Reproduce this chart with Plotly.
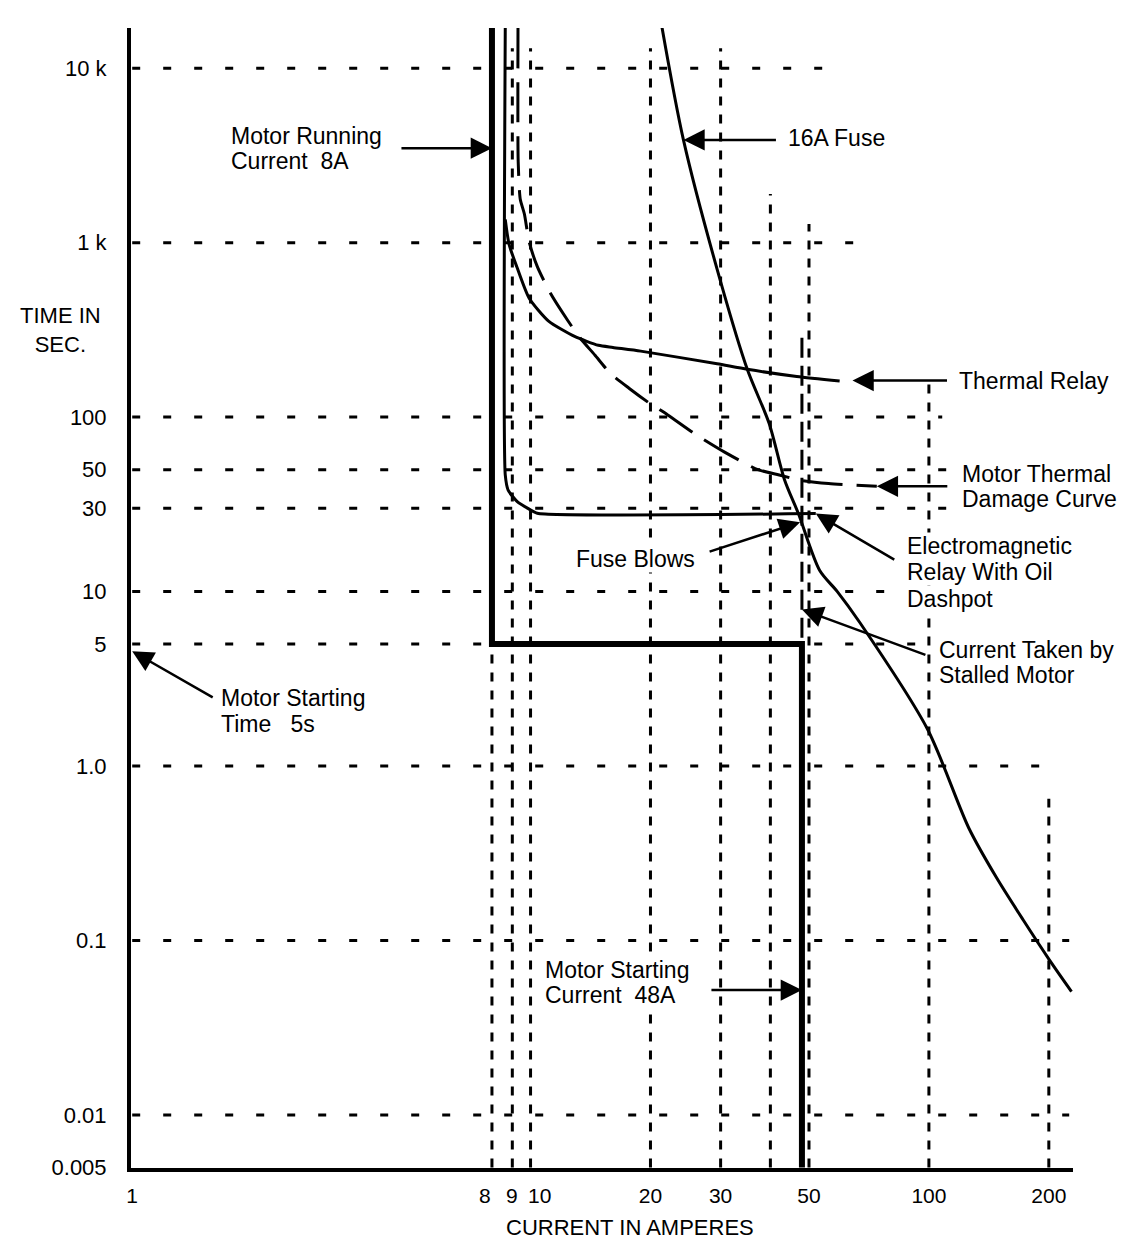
import math
import plotly.graph_objects as go

# ---------------- axes / ticks ----------------
x_tick_vals = [1, 20, 30, 50, 100, 200]
x_tick_text = ["1", "20", "30", "50", "100", "200"]
# crowded ticks near 8-10 A are labelled separately so they do not collide
x_close_vals = [8, 9, 10]
x_close_text = ["8", "9", "10"]
y_tick_vals = [0.005, 0.01, 0.1, 1, 5, 10, 30, 50, 100, 1000, 10000]
y_tick_text = ["0.005", "0.01", "0.1", "1.0", "5", "10", "30", "50", "100", "1 k", "10 k"]
x_min, x_max = 1, 230
y_min, y_max = 0.005, 17000

# ---------------- dotted reference grid (data units) ----------------
hgrid_sec = [10000, 1000, 100, 50, 30, 10, 5, 1, 0.1, 0.01]
hgrid_end_amps = [55, 69, 108, 119, 140, 86, 100, 190, 225, 225]
vgrid_amps = [8, 9, 10, 20, 30, 40, 50, 100, 200]
vgrid_top_sec = [17000, 13000, 13000, 13000, 13000, 1900, 1280, 155, 0.65]

# ---------------- curves ----------------
# motor running current 8 A -> starting time 5 s -> starting current 48 A
motor_amps = [8, 8, 48, 48]
motor_sec = [17000, 5, 5, 0.005]
# current taken by stalled motor (48 A)
stall_amps = [48, 48]
stall_sec = [285, 5]
# electromagnetic relay with oil dashpot
em_amps = [8.64, 8.64, 8.79, 9.26, 9.92, 10.4, 52]
em_sec = [17000, 46.6, 38, 32.8, 29.7, 28.1, 28]
# thermal relay
thermal_amps = [8.64, 8.83, 9.23, 9.92, 11.1, 12.9, 14.8, 16.1, 18.9, 29.4, 35.0, 46.6, 59.7]
thermal_sec = [1360, 980, 730, 480, 355, 290, 258, 251, 239, 202, 188, 171, 161]
# motor thermal damage curve
damage_amps = [9.3, 9.31, 9.42, 9.65, 9.92, 10.4, 11.2, 12.4, 13.3, 14.5, 15.9, 17.7,
               19.8, 22.1, 26.0, 30.7, 37.2, 42.1, 47.6, 56, 74]
damage_sec = [17000, 2930, 1780, 1460, 1010, 729, 516, 358, 285, 227, 177, 146,
              121, 103, 79.4, 63, 50, 46.6, 43.4, 41.6, 40.1]
# 16 A fuse
fuse_amps = [21.2, 24.2, 30, 35.0, 39.7, 43.4, 47, 53.2, 58.9, 67, 99, 126, 147.5, 172.5, 201, 228]
fuse_sec = [19100, 3880, 598, 188, 92.2, 43.8, 28.1, 13.2, 10, 6.67, 1.64, 0.44, 0.231, 0.131, 0.077, 0.051]

# ---------------- callouts: arrow head in data units ----------------
callout_heads = [(8, 3480), (24.2, 3880), (64.3, 162), (74, 40.1), (52, 28),
                 (47.5, 25), (48, 7.9), (1, 4.55), (48, 0.052)]
callout_lines = [["Motor Running", "Current\u00a0 8A"],
                 ["16A Fuse"],
                 ["Thermal Relay"],
                 ["Motor Thermal", "Damage Curve"],
                 ["Electromagnetic", "Relay With Oil", "Dashpot"],
                 ["Fuse Blows"],
                 ["Current Taken by", "Stalled Motor"],
                 ["Motor Starting", "Time\u00a0\u00a0 5s"],
                 ["Motor Starting", "Current\u00a0 48A"]]
# layout of callouts (pixel offsets from the arrow head)
callout_tail = [(-92, 0), (94, 0), (96, 0), (72, 0), (80, 47), (-92, 30), (125, 46), (82, 47), (-92, 0)]
callout_text_dx = [-262, 104, 105, 84, 90, -165, 136, 88, -258]
callout_text_dy = [[-12, 13], [-2], [0], [-12, 13], [32, 58, 85], [37], [41, 66], [47, 73], [-20, 5]]
callout_anchor = ["left", "left", "left", "left", "left", "center", "left", "left", "left"]
close_label_shift = [-7, 0, 9]

FONT = "Liberation Sans, Arial, Helvetica, sans-serif"

fig = go.Figure()

# grid traces
hx, hy = [], []
for v, e in zip(hgrid_sec, hgrid_end_amps):
    hx += [x_min, e, None]
    hy += [v, v, None]
fig.add_trace(go.Scatter(x=hx, y=hy, mode="lines",
                         line=dict(color="black", width=3, dash="8px,23px"),
                         hoverinfo="skip"))
vx, vy = [], []
for a, t in zip(vgrid_amps, vgrid_top_sec):
    vx += [a, a, None]
    vy += [y_min, t, None]
fig.add_trace(go.Scatter(x=vx, y=vy, mode="lines",
                         line=dict(color="black", width=3, dash="9px,9px"),
                         hoverinfo="skip"))

# curves
fig.add_trace(go.Scatter(x=stall_amps, y=stall_sec, mode="lines",
                         line=dict(color="black", width=3, dash="20px,8px")))
fig.add_trace(go.Scatter(x=damage_amps, y=damage_sec, mode="lines",
                         line=dict(color="black", width=3, dash="40px,14px", shape="spline", smoothing=0.6)))
fig.add_trace(go.Scatter(x=thermal_amps, y=thermal_sec, mode="lines",
                         line=dict(color="black", width=3, shape="spline", smoothing=0.6)))
fig.add_trace(go.Scatter(x=em_amps, y=em_sec, mode="lines",
                         line=dict(color="black", width=3, shape="spline", smoothing=0.5)))
fig.add_trace(go.Scatter(x=fuse_amps, y=fuse_sec, mode="lines",
                         line=dict(color="black", width=3, shape="spline", smoothing=0.8)))
fig.add_trace(go.Scatter(x=motor_amps, y=motor_sec, mode="lines",
                         line=dict(color="black", width=6)))

# callouts
for (hx_, hy_), (tdx, tdy), lines, dx, dys, anc in zip(callout_heads, callout_tail, callout_lines,
                                                      callout_text_dx, callout_text_dy, callout_anchor):
    for line, dy in zip(lines, dys):
        fig.add_annotation(x=math.log10(hx_), y=math.log10(hy_), xref="x", yref="y",
                           text=line, showarrow=False, xshift=dx, yshift=-dy,
                           xanchor=anc, yanchor="middle", bgcolor="white", borderpad=0,
                           font=dict(family=FONT, size=23, color="black"))
    fig.add_annotation(x=math.log10(hx_), y=math.log10(hy_), xref="x", yref="y",
                       text="", showarrow=True, ax=tdx, ay=tdy,
                       arrowhead=2, arrowsize=1.7, arrowwidth=2.5, arrowcolor="black",
                       standoff=0, startstandoff=0)

# crowded x tick labels 8, 9, 10
for v, t, s in zip(x_close_vals, x_close_text, close_label_shift):
    fig.add_annotation(x=math.log10(v), y=0, xref="x", yref="paper", text=t,
                       showarrow=False, xanchor="center", yanchor="top", yshift=-14, xshift=s,
                       font=dict(family=FONT, size=21, color="black"))

# axis titles
fig.add_annotation(x=-0.075, y=0.735, xref="paper", yref="paper", text="TIME IN<br>SEC.",
                   showarrow=False, xanchor="center", yanchor="middle", align="center",
                   font=dict(family=FONT, size=22, color="black"))
fig.add_annotation(x=0.53, y=-0.052, xref="paper", yref="paper", text="CURRENT IN AMPERES",
                   showarrow=False, xanchor="center", yanchor="middle",
                   font=dict(family=FONT, size=22, color="black"))

fig.update_xaxes(type="log", range=[math.log10(x_min) - 0.003, math.log10(x_max)],
                 tickmode="array", tickvals=x_tick_vals, ticktext=x_tick_text, tickangle=0,
                 showgrid=False, zeroline=False, showline=True, linecolor="black", linewidth=4,
                 ticks="", ticklabelstandoff=6,
                 tickfont=dict(family=FONT, size=21, color="black"))
fig.update_yaxes(type="log", range=[math.log10(y_min) - 0.003, math.log10(y_max)],
                 tickmode="array", tickvals=y_tick_vals, ticktext=y_tick_text,
                 showgrid=False, zeroline=False, showline=True, linecolor="black", linewidth=4,
                 ticks="", ticklabelstandoff=16,
                 tickfont=dict(family=FONT, size=22, color="black"))

fig.update_layout(width=1134, height=1243, margin=dict(l=123, r=69, t=20, b=83),
                  plot_bgcolor="white", paper_bgcolor="white", showlegend=False,
                  hovermode=False, font=dict(family=FONT, size=22, color="black"))

fig.write_html("out.html")
